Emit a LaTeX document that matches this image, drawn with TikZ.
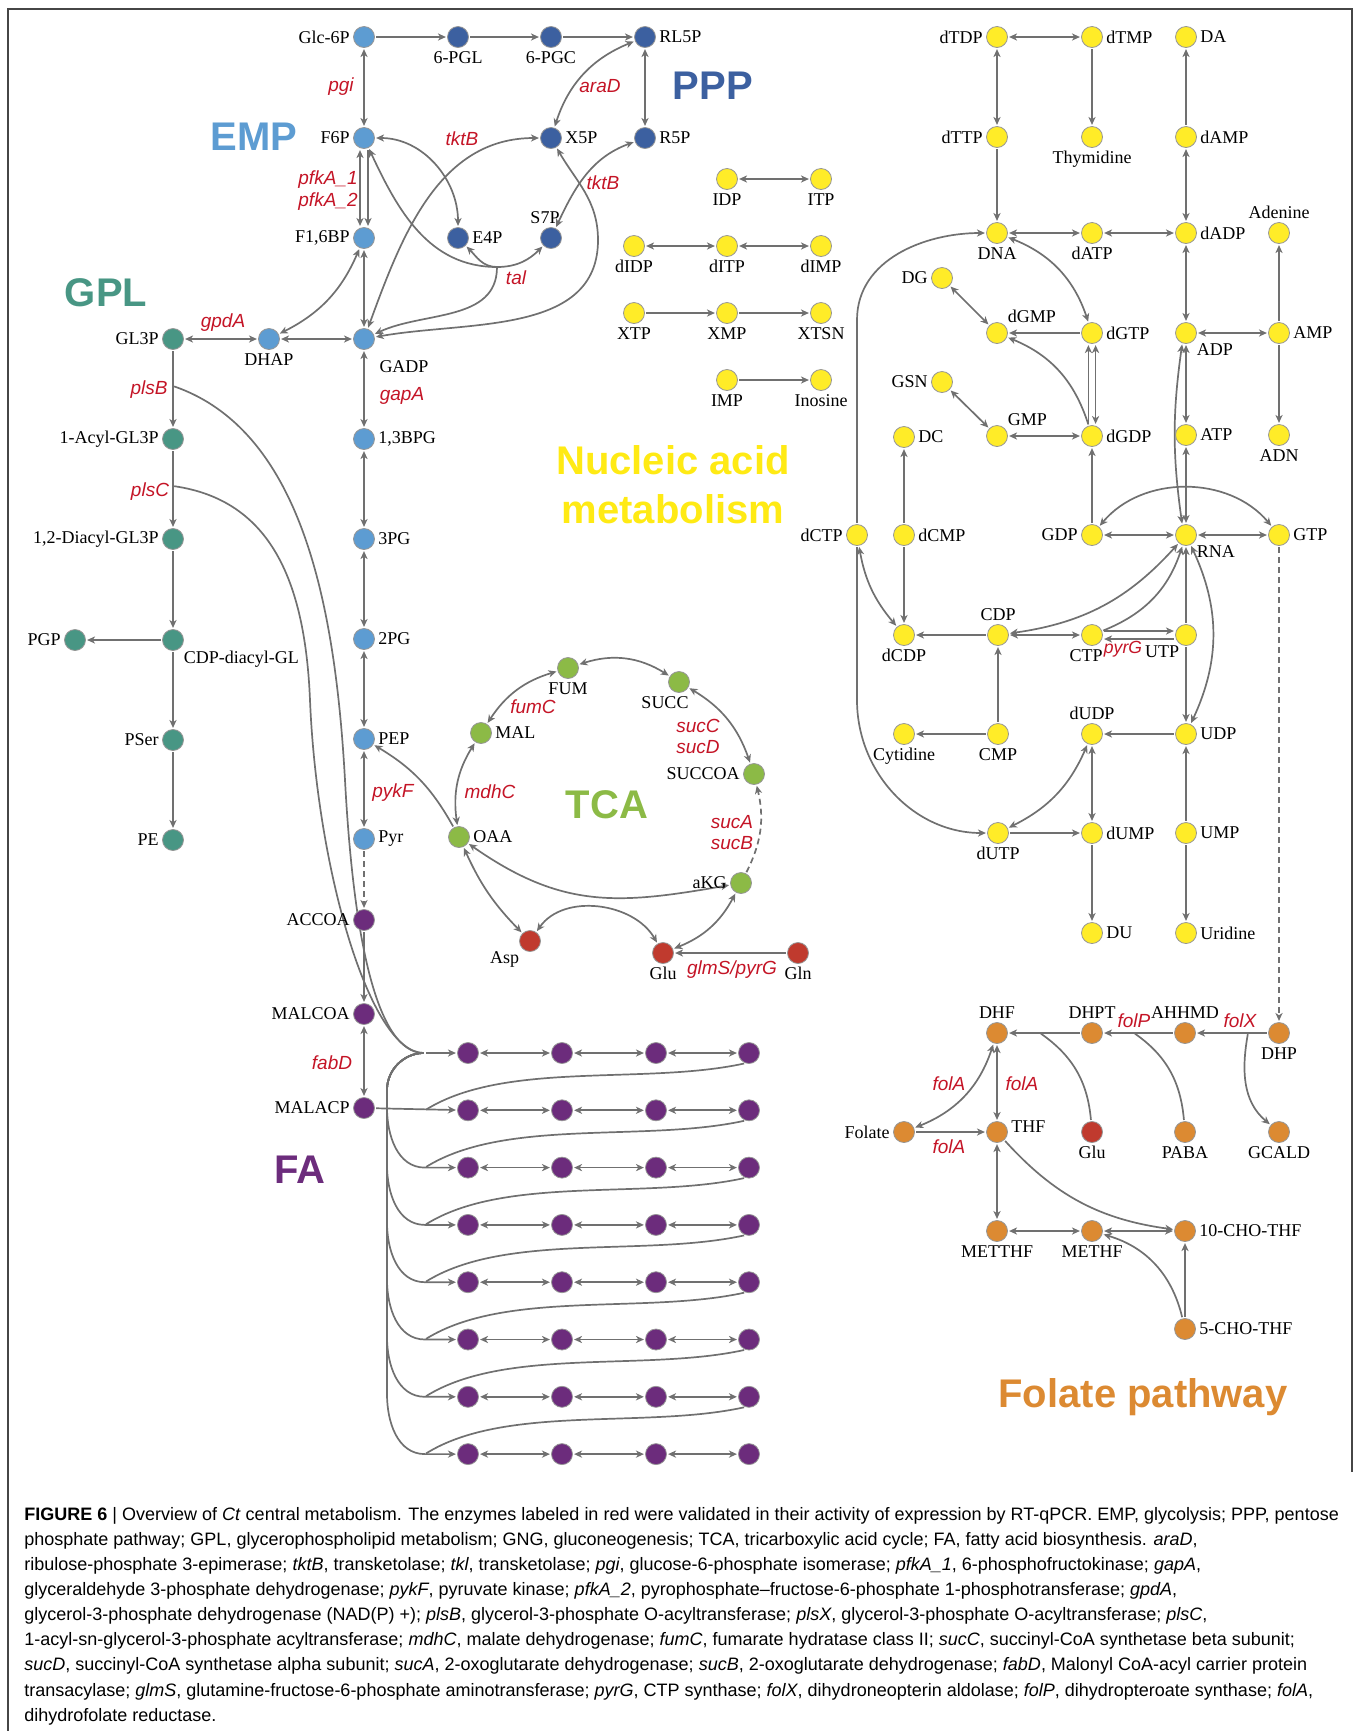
\documentclass[tikz,border=0pt]{standalone}
\usepackage{fontspec}
\setmainfont{Liberation Serif}
\newfontfamily\sansfont{Liberation Sans}
\newfontfamily\capfont{Liberation Sans}
\usetikzlibrary{arrows.meta,backgrounds}

\definecolor{empblue}{RGB}{93,156,210}
\definecolor{pppblue}{RGB}{60,96,160}
\definecolor{gplteal}{RGB}{72,150,132}
\definecolor{nucyellow}{RGB}{255,236,40}
\definecolor{nuctext}{RGB}{255,234,20}
\definecolor{tcagreen}{RGB}{140,186,70}
\definecolor{aared}{RGB}{192,58,46}
\definecolor{fapurple}{RGB}{108,44,124}
\definecolor{folorange}{RGB}{220,138,50}
\definecolor{enzred}{RGB}{196,20,38}
\definecolor{linegray}{RGB}{112,112,112}
\definecolor{nodeedge}{RGB}{150,150,150}
\definecolor{framegray}{RGB}{70,70,70}

\tikzset{
  >={Stealth[length=4pt,width=3.6pt,inset=1.2pt]},
  met/.style={circle,draw=nodeedge,line width=0.4pt,minimum size=10.5pt,inner sep=0pt},
  emp/.style={met,fill=empblue},
  ppp/.style={met,fill=pppblue},
  gpl/.style={met,fill=gplteal},
  nuc/.style={met,fill=nucyellow},
  tca/.style={met,fill=tcagreen},
  aa/.style={met,fill=aared},
  fa/.style={met,fill=fapurple},
  fol/.style={met,fill=folorange},
  every label/.style={font=\fontsize{9}{10}\selectfont,inner sep=1pt},
  label distance=0.5pt,
  rx/.style={draw=linegray,line width=0.85pt,shorten >=0.6pt,shorten <=0.6pt},
  fw/.style={rx,->},
  bd/.style={rx,<->},
  dsh/.style={rx,->,dash pattern=on 3pt off 2pt},
  enz/.style={font=\sansfont\itshape\fontsize{9.5}{11}\selectfont,text=enzred,inner sep=0pt},
  pathname/.style={font=\sansfont\bfseries\fontsize{20}{24.5}\selectfont,inner sep=0pt}
}

\begin{document}
\begin{tikzpicture}[x=0.5pt,y=-0.5pt]
\useasboundingbox (0,0) rectangle (1358,1731);

% Frame
\draw[framegray,line width=0.7pt] (8,1731) -- (8,9) -- (1352,9) -- (1352,1472);

% Pathway names
\node[pathname,text=empblue] (emplab) at (254,137) {EMP};
\node[pathname,text=pppblue] (ppplab) at (713,86) {PPP};
\node[pathname,text=gplteal] (gpllab) at (106,293) {GPL};
\node[pathname,text=nuctext,align=center] (nuclab) at (673,485) {Nucleic acid\\metabolism};
\node[pathname,text=tcagreen] (tcalab) at (607,805) {TCA};
\node[pathname,text=fapurple] (falab) at (300,1170) {FA};
\node[pathname,text=folorange] (follab) at (1143,1397) {Folate pathway};

% EMP
\node[emp,label=left:Glc-6P] (glc6p) at (364,37) {};
\node[emp,label=left:F6P] (f6p) at (364,138) {};
\node[emp,label=left:{F1,6BP}] (f16bp) at (364,238) {};
\node[emp,label={[shift={(20pt,-3.5pt)}]below:GADP}] (gadp) at (364,339) {};
\node[emp,label=below:DHAP] (dhap) at (269,339) {};
\node[emp,label=right:{1,3BPG}] (bpg13) at (364,439) {};
\node[emp,label=right:3PG] (pg3) at (364,539) {};
\node[emp,label=right:2PG] (pg2) at (364,639) {};
\node[emp,label=right:PEP] (pep) at (364,739) {};
\node[emp,label=right:Pyr] (pyr) at (364,839) {};

% PPP
\node[ppp,label=below:6-PGL] (pgl6) at (458,37) {};
\node[ppp,label=below:6-PGC] (pgc6) at (551,37) {};
\node[ppp,label=right:RL5P] (rl5p) at (645,37) {};
\node[ppp,label=right:X5P] (x5p) at (551,138) {};
\node[ppp,label=right:R5P] (r5p) at (645,138) {};
\node[ppp,label=right:E4P] (e4p) at (458,238) {};
\node[ppp,label={[xshift=-3pt]above:S7P}] (s7p) at (551,238) {};

% GPL
\node[gpl,label=left:GL3P] (gl3p) at (173,339) {};
\node[gpl,label=left:1-Acyl-GL3P] (acylgl3p) at (173,439) {};
\node[gpl,label=left:{1,2-Diacyl-GL3P}] (diacyl) at (173,539) {};
\node[gpl,label=below right:CDP-diacyl-GL] (cdpdag) at (173,640) {};
\node[gpl,label=left:PGP] (pgp) at (75,640) {};
\node[gpl,label=left:PSer] (pser) at (173,740) {};
\node[gpl,label=left:PE] (pe) at (173,840) {};

% FA
\node[fa,label=left:ACCOA] (accoa) at (364,920) {};
\node[fa,label=left:MALCOA] (malcoa) at (364,1014) {};
\node[fa,label=left:MALACP] (malacp) at (364,1108) {};
\foreach \r in {1,...,8} {
  \pgfmathsetmacro\yy{1053+57.3*(\r-1)}
  \foreach \c/\xx in {1/468,2/562,3/656,4/749}
    \node[fa] (fa\r\c) at (\xx,\yy) {};
  \coordinate (faj\r) at (425,\yy);
}

% TCA
\node[tca,label=below:FUM] (fum) at (568,668) {};
\node[tca,label={[xshift=-7pt]below:SUCC}] (succ) at (679,682) {};
\node[tca,label=left:SUCCOA] (succoa) at (754,774) {};
\node[tca,label=left:aKG] (akg) at (741,883) {};
\node[tca,label=right:OAA] (oaa) at (459,837) {};
\node[tca,label=right:MAL] (mal) at (481,733) {};
\node[aa,label=below left:Asp] (asp) at (530,941) {};
\node[aa,label=below:Glu] (glu) at (663,953) {};
\node[aa,label=below:Gln] (gln) at (798,953) {};

% Nucleic acid metabolism
\node[nuc,label=below:IDP] (idp) at (727,179) {};
\node[nuc,label=below:ITP] (itp) at (821,179) {};
\node[nuc,label=below:dIDP] (didp) at (634,246) {};
\node[nuc,label=below:dITP] (ditp) at (727,246) {};
\node[nuc,label=below:dIMP] (dimp) at (821,246) {};
\node[nuc,label=below:XTP] (xtp) at (634,313) {};
\node[nuc,label=below:XMP] (xmp) at (727,313) {};
\node[nuc,label=below:XTSN] (xtsn) at (821,313) {};
\node[nuc,label=below:IMP] (imp) at (727,380) {};
\node[nuc,label=below:Inosine] (inosine) at (821,380) {};
\node[nuc,label=left:dTDP] (dtdp) at (997,37) {};
\node[nuc,label=right:dTMP] (dtmp) at (1092,37) {};
\node[nuc,label=right:DA] (da) at (1186,37) {};
\node[nuc,label=left:dTTP] (dttp) at (997,137) {};
\node[nuc,label=below:Thymidine] (thymidine) at (1092,137) {};
\node[nuc,label=right:dAMP] (damp) at (1186,137) {};
\node[nuc,label=below:DNA] (dna) at (997,233) {};
\node[nuc,label=below:dATP] (datp) at (1092,233) {};
\node[nuc,label=right:dADP] (dadp) at (1186,233) {};
\node[nuc,label=above:Adenine] (adenine) at (1279,233) {};
\node[nuc,label=left:DG] (dg) at (942,278) {};
\node[nuc,label=above right:dGMP] (dgmp) at (997,333) {};
\node[nuc,label=right:dGTP] (dgtp) at (1092,333) {};
\node[nuc,label=below right:ADP] (adp) at (1186,333) {};
\node[nuc,label=right:AMP] (amp) at (1279,333) {};
\node[nuc,label=left:GSN] (gsn) at (942,382) {};
\node[nuc,label=right:DC] (dc) at (904,437) {};
\node[nuc,label=above right:GMP] (gmp) at (997,436) {};
\node[nuc,label=right:dGDP] (dgdp) at (1092,436) {};
\node[nuc,label=right:ATP] (atp) at (1186,435) {};
\node[nuc,label=below:ADN] (adn) at (1279,435) {};
\node[nuc,label=left:dCTP] (dctp) at (857,535) {};
\node[nuc,label=right:dCMP] (dcmp) at (904,535) {};
\node[nuc,label=left:GDP] (gdp) at (1092,535) {};
\node[nuc,label=below right:RNA] (rna) at (1186,535) {};
\node[nuc,label=right:GTP] (gtp) at (1279,535) {};
\node[nuc,label=below:dCDP] (dcdp) at (904,635) {};
\node[nuc,label=above:CDP] (cdp) at (998,635) {};
\node[nuc,label={[xshift=-3pt]below:CTP}] (ctp) at (1092,635) {};
\node[nuc,label={[xshift=2pt]below left:UTP}] (utp) at (1186,635) {};
\node[nuc,label=below:Cytidine] (cytidine) at (904,734) {};
\node[nuc,label=below:CMP] (cmp) at (998,734) {};
\node[nuc,label=above:dUDP] (dudp) at (1092,734) {};
\node[nuc,label=right:UDP] (udp) at (1186,734) {};
\node[nuc,label=below:dUTP] (dutp) at (998,833) {};
\node[nuc,label=right:dUMP] (dump) at (1092,833) {};
\node[nuc,label=right:UMP] (ump) at (1186,833) {};
\node[nuc,label=right:DU] (du) at (1092,933) {};
\node[nuc,label=right:Uridine] (uridine) at (1186,933) {};

% Folate pathway
\node[fol,label=above:DHF] (dhf) at (997,1033) {};
\node[fol,label=above:DHPT] (dhpt) at (1092,1033) {};
\node[fol,label=above:AHHMD] (ahhmd) at (1185,1033) {};
\node[fol,label=below:DHP] (dhp) at (1279,1033) {};
\node[fol,label=left:Folate] (folate) at (904,1132) {};
\node[fol,label={[yshift=2.5pt]right:THF}] (thf) at (997,1132) {};
\node[aa,label=below:Glu] (gluf) at (1092,1132) {};
\node[fol,label=below:PABA] (paba) at (1185,1132) {};
\node[fol,label=below:GCALD] (gcald) at (1279,1132) {};
\node[fol,label=below:METTHF] (metthf) at (997,1231) {};
\node[fol,label=below:METHF] (methf) at (1092,1231) {};
\node[fol,label=right:10-CHO-THF] (chothf10) at (1185,1231) {};
\node[fol,label=right:5-CHO-THF] (chothf5) at (1185,1329) {};

% Enzymes
\node[enz] (pgilab) at (341,87) {pgi};
\node[enz] (tktblab) at (462,139) {tktB};
\node[enz] (aradlab) at (600,86) {araD};
\node[enz] (pfka1lab) at (328,180) {pfkA\_1};
\node[enz] (pfka2lab) at (328,202) {pfkA\_2};
\node[enz] (tktbblab) at (603,183) {tktB};
\node[enz] (tallab) at (516,278) {tal};
\node[enz] (gpdalab) at (223,323) {gpdA};
\node[enz] (plsblab) at (149,390) {plsB};
\node[enz] (gapalab) at (402,396) {gapA};
\node[enz] (plsclab) at (150,492) {plsC};
\node[enz] (pykflab) at (393,793) {pykF};
\node[enz] (mdhclab) at (490,792) {mdhC};
\node[enz] (fumclab) at (533,707) {fumC};
\node[enz] (succlab) at (698,726) {sucC};
\node[enz] (sucdlab) at (698,747) {sucD};
\node[enz] (sucalab) at (732,822) {sucA};
\node[enz] (sucblab) at (732,843) {sucB};
\node[enz] (glmslab) at (732,970) {glmS/pyrG};
\node[enz] (fabdlab) at (332,1063) {fabD};
\node[enz,font=\sansfont\itshape\fontsize{8.8}{10}\selectfont] (pyrglab) at (1123,649) {pyrG};
\node[enz] (folplab) at (1134,1021) {folP};
\node[enz] (folxlab) at (1240,1021) {folX};
\node[enz] (folalab) at (949,1084) {folA};
\node[enz] (folablab) at (1022,1084) {folA};
\node[enz] (folaclab) at (949,1147) {folA};

% Caption
\node[anchor=north west,inner sep=0pt,align=left,font=\capfont\fontsize{9}{12.54}\selectfont] (caption) at (24,1507) {%
\textbf{FIGURE 6} | Overview of \textit{Ct} central metabolism. The enzymes labeled in red were validated in their activity of expression by RT-qPCR. EMP, glycolysis; PPP, pentose\\
phosphate pathway; GPL, glycerophospholipid metabolism; GNG, gluconeogenesis; TCA, tricarboxylic acid cycle; FA, fatty acid biosynthesis. \textit{araD},\\
ribulose-phosphate 3-epimerase; \textit{tktB}, transketolase; \textit{tkl}, transketolase; \textit{pgi}, glucose-6-phosphate isomerase; \textit{pfkA\_1}, 6-phosphofructokinase; \textit{gapA},\\
glyceraldehyde 3-phosphate dehydrogenase; \textit{pykF}, pyruvate kinase; \textit{pfkA\_2}, pyrophosphate–fructose-6-phosphate 1-phosphotransferase; \textit{gpdA},\\
glycerol-3-phosphate dehydrogenase (NAD(P) +); \textit{plsB}, glycerol-3-phosphate O-acyltransferase; \textit{plsX}, glycerol-3-phosphate O-acyltransferase; \textit{plsC},\\
1-acyl-sn-glycerol-3-phosphate acyltransferase; \textit{mdhC}, malate dehydrogenase; \textit{fumC}, fumarate hydratase class II; \textit{sucC}, succinyl-CoA synthetase beta subunit;\\
\textit{sucD}, succinyl-CoA synthetase alpha subunit; \textit{sucA}, 2-oxoglutarate dehydrogenase; \textit{sucB}, 2-oxoglutarate dehydrogenase; \textit{fabD}, Malonyl CoA-acyl carrier protein\\
transacylase; \textit{glmS}, glutamine-fructose-6-phosphate aminotransferase; \textit{pyrG}, CTP synthase; \textit{folX}, dihydroneopterin aldolase; \textit{folP}, dihydropteroate synthase; \textit{folA},\\
dihydrofolate reductase.};

\begin{pgfonlayer}{background}
% EMP and PPP reactions
\draw[fw] (glc6p) -- (pgl6);
\draw[fw] (pgl6) -- (pgc6);
\draw[fw] (pgc6) -- (rl5p);
\draw[bd] (glc6p) -- (f6p);
\draw[bd] (rl5p) -- (r5p);
\draw[bd] (x5p) to[bend left=25] (rl5p);
\draw[bd] ([xshift=-2pt]f6p.south) -- ([xshift=-2pt]f16bp.north);
\draw[fw] ([xshift=2pt]f6p.south) -- ([xshift=2pt]f16bp.north);
\draw[bd] (f16bp) -- (gadp);
\draw[bd] (dhap) to[bend right=20] (f16bp);
\draw[bd] (gl3p) -- (dhap);
\draw[bd] (dhap) -- (gadp);
\draw[bd] (gadp) -- (bpg13);
\draw[bd] (bpg13) -- (pg3);
\draw[bd] (pg3) -- (pg2);
\draw[bd] (pg2) -- (pep);
\draw[bd] (pep) -- (pyr);
\draw[dsh] (pyr) -- (accoa);
\draw[fw] (accoa) -- (malcoa);
\draw[bd] (malcoa) -- (malacp);

% tktB and tal
\coordinate (talpt) at (497,267);
\coordinate (loopx) at (598,240);
\draw[bd] (f6p) to[out=0,in=90] (e4p);
\draw[bd] (x5p) to[out=180,in=70] (gadp);
\draw[bd] (e4p) to[out=-45,in=180] (talpt) to[out=0,in=-135] (s7p);
\draw[bd] (f6p) to[out=-65,in=180] (talpt) to[out=-90,in=25] (gadp);
\draw[bd] (gadp) to[out=10,in=-90] (loopx) to[out=90,in=-60] (x5p);
\draw[bd] (r5p) to[out=200,in=65] (s7p);

% GPL
\coordinate (plsbpt) at (173,386);
\coordinate (plscpt) at (173,486);
\draw[fw] (gl3p) -- (acylgl3p);
\draw[fw] (acylgl3p) -- (diacyl);
\draw[fw] (diacyl) -- (cdpdag);
\draw[fw] (cdpdag) -- (pgp);
\draw[fw] (cdpdag) -- (pser);
\draw[fw] (pser) -- (pe);
\draw[rx] (plsbpt) .. controls (300,430) and (335,600) .. (345,780) .. controls (353,930) and (375,1053) .. (faj1);
\draw[rx] (plscpt) .. controls (270,500) and (305,580) .. (310,700) .. controls (317,870) and (370,1053) .. (faj1);

% FA
\draw[fw] (faj1) -- (fa11);
\draw[fw] (malacp) -- (fa21);
\foreach \r in {1,...,8} {
  \pgfmathsetmacro\yy{1053+57.3*(\r-1)}
  \pgfmathsetmacro\ya{\yy-60}
  \draw[bd] (fa\r1) -- (fa\r2);
  \draw[bd] (fa\r2) -- (fa\r3);
  \draw[bd] (fa\r3) -- (fa\r4);
  \ifnum\r>2
    \draw[fw] (faj1) to[out=180,in=90] (387,1090) -- (387,\ya) to[out=-90,in=180] (faj\r) -- (fa\r1);
  \fi
  \ifnum\r<8
    \pgfmathtruncatemacro\nx{\r+1}
    \draw[rx] (fa\r4.250) .. controls +(-100,22) and +(80,-50) .. (faj\nx);
  \fi
}

% TCA
\draw[bd] (fum) to[bend left=25] (succ);
\draw[bd] (mal) to[bend left=20] (fum);
\draw[bd] (oaa) to[bend left=20] (mal);
\draw[bd] (succ) to[bend left=20] (succoa);
\draw[dsh] (akg) to[bend right=20] (succoa);
\draw[fw] (oaa) to[bend right=15] (pep);
\draw[bd] (oaa) to[out=-35,in=190,looseness=1.1] (akg);
\draw[bd] (oaa) to[bend right=10] (asp);
\draw[bd] (asp) to[out=55,in=120] (glu);
\draw[bd] (akg) to[bend left=20] (glu);
\draw[fw] (gln) -- (glu);

% Nucleic acid metabolism
\coordinate (dctpup) at (857,320);
\coordinate (dctpdown) at (857,700);
\draw[bd] (idp) -- (itp);
\draw[bd] (didp) -- (ditp);
\draw[bd] (ditp) -- (dimp);
\draw[fw] (xtp) -- (xmp);
\draw[fw] (xmp) -- (xtsn);
\draw[fw] (imp) -- (inosine);
\draw[bd] (dtdp) -- (dtmp);
\draw[bd] (dtdp) -- (dttp);
\draw[fw] (dtmp) -- (thymidine);
\draw[fw] (damp) -- (da);
\draw[bd] (dadp) -- (damp);
\draw[fw] (dttp) -- (dna);
\draw[bd] (dna) -- (datp);
\draw[bd] (datp) -- (dadp);
\draw[bd] (dna) to[bend left=25] (dgtp);
\draw[fw] (dctp) -- (dctpup) to[out=90,in=180] (dna);
\draw[bd] (dg) -- (dgmp);
\draw[fw] (dgtp) -- (dgmp);
\draw[fw] (dgdp) to[bend right=25] (dgmp);
\draw[fw] ([xshift=-1.8pt]dgdp.north) -- ([xshift=-1.8pt]dgtp.south);
\draw[bd] ([xshift=1.8pt]dgtp.south) -- ([xshift=1.8pt]dgdp.north);
\draw[bd] (gsn) -- (gmp);
\draw[bd] (gmp) -- (dgdp);
\draw[fw] (gdp) -- (dgdp);
\draw[bd] (dadp) -- (adp);
\draw[bd] (adp) -- (amp);
\draw[fw] (amp) -- (adenine);
\draw[fw] (amp) -- (adn);
\draw[bd] (adp) -- (atp);
\draw[bd] (atp) -- (rna);
\draw[bd] (adp.250) to[bend right=8] (rna.110);
\draw[bd] (gdp) -- (rna);
\draw[bd] (rna) -- (gtp);
\draw[bd] (gdp) to[bend left=50] (gtp);
\draw[fw] (dcmp) -- (dc);
\draw[fw] (dcmp) -- (dcdp);
\draw[bd] (dctp) to[bend right=15] (dcdp);
\draw[fw] (dctp) -- (dctpdown) to[out=-90,in=180] (dutp);
\draw[fw] (cdp) -- (dcdp);
\draw[bd] (cdp) -- (ctp);
\draw[fw] (cmp) -- (cdp);
\draw[fw] (cmp) -- (cytidine);
\draw[bd] (rna) to[bend left=20] (cdp);
\draw[fw] (ctp) to[bend right=25] (rna);
\draw[fw] ([yshift=2pt]ctp.east) -- ([yshift=2pt]utp.west);
\draw[fw] ([yshift=-2pt]utp.west) -- ([yshift=-2pt]ctp.east);
\draw[fw] (utp) -- (rna);
\draw[fw] (utp) -- (udp);
\draw[bd] (rna) to[bend left=25] (udp);
\draw[fw] (udp) -- (dudp);
\draw[bd] (dudp) -- (dump);
\draw[bd] (dudp) to[bend left=20] (dutp);
\draw[fw] (dutp) -- (dump);
\draw[fw] (dump) -- (du);
\draw[fw] (ump) -- (udp);
\draw[fw] (ump) -- (uridine);
\draw[dsh] (gtp) -- (dhp);

% Folate
\coordinate (glujoin) at (1040,1033);
\coordinate (pabajoin) at (1134,1033);
\coordinate (gcaldjoin) at (1248,1033);
\draw[fw] (dhp) -- (ahhmd);
\draw[fw] (ahhmd) -- (dhpt);
\draw[fw] (dhpt) -- (dhf);
\draw[rx] (gluf) to[out=95,in=-35] (glujoin);
\draw[rx] (paba) to[out=95,in=-35] (pabajoin);
\draw[fw] (gcaldjoin) to[out=-100,in=140] (gcald);
\draw[bd] (dhf) -- (thf);
\draw[bd] (dhf) to[bend left=25] (folate);
\draw[fw] (folate) -- (thf);
\draw[bd] (thf) -- (metthf);
\draw[bd] (metthf) -- (methf);
\draw[bd] (methf) -- (chothf10);
\draw[fw] (thf) to[bend right=20] (chothf10);
\draw[fw] (chothf5) to[bend right=30] (methf);
\draw[fw] (chothf5) -- (chothf10);
\end{pgfonlayer}
\end{tikzpicture}
\end{document}
